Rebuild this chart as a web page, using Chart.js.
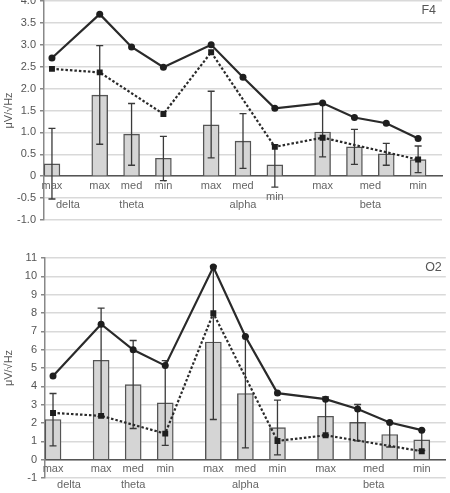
<!DOCTYPE html>
<html>
<head>
<meta charset="utf-8">
<script src="https://cdn.jsdelivr.net/npm/chart.js@4.4.1/dist/chart.umd.min.js"></script>
<style>
  html, body { margin: 0; padding: 0; background: #fff; overflow: hidden; width: 450px; height: 493px; }
  #c1 { position: absolute; left: 0; top: -10px; }
  #c2 { position: absolute; left: 0; top: 240px; }
</style>
</head>
<body>
<canvas id="c1" width="450" height="250"></canvas>
<canvas id="c2" width="450" height="253"></canvas>
<script>
// Category slots (empty slots are spacer columns between band groups)
const tickLabels  = ['max','','','max','','med','','min','','','max','','med','','min','','','max','','','med','','','min',''];
const groupLabels = ['','delta','','','','theta','','','','','','','alpha','','','','','','','','beta','','','',''];

// F4 panel
const f4Bars     = [0.28,null,null,1.85,null,0.96,null,0.41,null,null,1.17,null,0.80,null,0.26,null,null,1.01,null,0.67,null,0.51,null,0.38,null];
const f4ErrHigh  = [1.09,null,null,2.98,null,1.66,null,0.91,null,null,1.94,null,1.43,null,0.72,null,null,1.67,null,1.07,null,0.75,null,0.69,null];
const f4ErrLow   = [-0.52,null,null,0.73,null,0.25,null,-0.10,null,null,0.42,null,0.18,null,-0.25,null,null,0.44,null,0.27,null,0.25,null,0.08,null];
const f4Solid    = [2.70,null,null,3.70,null,2.95,null,2.49,null,null,3.00,null,2.26,null,1.55,null,null,1.67,null,1.34,null,1.21,null,0.86,null];
const f4Dotted   = [2.45,null,null,2.37,null,null,null,1.42,null,null,2.83,null,null,null,0.67,null,null,0.88,null,null,null,null,null,0.38,null];

// O2 panel
const o2Bars     = [2.19,null,null,5.42,null,4.09,null,3.10,null,null,6.42,null,3.61,null,1.75,null,null,2.37,null,2.03,null,1.37,null,1.08,null];
const o2ErrHigh  = [3.61,null,null,8.27,null,6.50,null,5.40,null,null,10.55,null,6.72,null,3.25,null,null,3.43,null,3.01,null,2.03,null,1.62,null];
const o2ErrLow   = [0.75,null,null,2.35,null,1.70,null,0.78,null,null,2.19,null,0.64,null,0.26,null,null,1.35,null,1.02,null,0.69,null,0.50,null];
const o2Solid    = [4.56,null,null,7.39,null,5.99,null,5.13,null,null,10.51,null,6.72,null,3.63,null,null,3.30,null,2.76,null,2.03,null,1.61,null];
const o2Dotted   = [2.55,null,null,2.39,null,null,null,1.42,null,null,7.99,null,null,null,1.02,null,null,1.33,null,null,null,null,null,0.46,null];

const FONT = "'Liberation Sans', Arial, sans-serif";
Chart.defaults.font.family = FONT;

function makeExtras(cfg) {
  return {
    id: 'extras',
    afterDatasetDraw(chart, args) {
      const ds = chart.data.datasets[args.index];
      if (ds.type !== 'bar') return;
      const ctx = chart.ctx, xs = chart.scales.x, ys = chart.scales.y;
      ctx.save();
      ctx.strokeStyle = '#3a3a3a';
      ctx.lineWidth = 1.3;
      cfg.high.forEach((h, i) => {
        const l = cfg.low[i];
        if (h == null || l == null) return;
        const x = xs.getPixelForValue(i);
        const y1 = ys.getPixelForValue(h), y2 = ys.getPixelForValue(l);
        ctx.beginPath();
        ctx.moveTo(x, y1); ctx.lineTo(x, y2);
        ctx.moveTo(x - 3.5, y1); ctx.lineTo(x + 3.5, y1);
        ctx.moveTo(x - 3.5, y2); ctx.lineTo(x + 3.5, y2);
        ctx.stroke();
      });
      ctx.restore();
    },
    afterDraw(chart) {
      const ctx = chart.ctx, xs = chart.scales.x, ys = chart.scales.y;
      const y0 = ys.getPixelForValue(0);
      ctx.save();
      ctx.fillStyle = '#666';
      ctx.font = '11px ' + FONT;
      ctx.textAlign = 'center';
      ctx.textBaseline = 'middle';
      tickLabels.forEach((t, i) => {
        if (!t) return;
        const x = xs.getPixelForValue(i);
        const dy = cfg.lowered.includes(i) ? cfg.lowOff : cfg.row1;
        ctx.fillText(t, x, y0 + dy);
      });
      groupLabels.forEach((t, i) => {
        if (!t) return;
        ctx.fillText(t, xs.getPixelForValue(i), y0 + cfg.row2);
      });
      ctx.font = '12.5px ' + FONT;
      ctx.fillStyle = '#555';
      ctx.textAlign = 'right';
      ctx.fillText(cfg.tag, chart.chartArea.right - cfg.tagRight, chart.chartArea.top + cfg.tagTop);
      ctx.restore();
    }
  };
}

function buildChart(id, d, yMin, yMax, step, fmt, pad, yWidth, extras) {
  return new Chart(document.getElementById(id), {
    type: 'bar',
    data: {
      labels: tickLabels,
      datasets: [
        { type: 'bar', data: d.bars, backgroundColor: '#d5d5d5', borderColor: '#555', borderWidth: 1.4,
          barPercentage: 1, categoryPercentage: 1, order: 3 },
        { type: 'line', data: d.solid, borderColor: '#2a2a2a', borderWidth: 2.2, tension: 0, spanGaps: true,
          pointRadius: 3.5, pointBackgroundColor: '#1e1e1e', pointBorderWidth: 0, order: 1 },
        { type: 'line', data: d.dotted, borderColor: '#2a2a2a', borderWidth: 2.2, borderDash: [2.5, 2], tension: 0, spanGaps: true,
          pointStyle: 'rect', pointRadius: 4.2, pointBackgroundColor: '#1e1e1e', pointBorderWidth: 0, order: 2 }
      ]
    },
    options: {
      responsive: false,
      animation: false,
      devicePixelRatio: 1,
      layout: { padding: pad },
      plugins: { legend: { display: false }, tooltip: { enabled: false } },
      scales: {
        x: {
          type: 'category',
          position: { y: 0 },
          offset: true,
          grid: { display: true, color: 'rgba(0,0,0,0)', drawTicks: false },
          border: { display: true, color: '#555', width: 1.5 },
          ticks: { display: false }
        },
        y: {
          min: yMin, max: yMax,
          afterFit: (s) => { s.width = yWidth; },
          ticks: { stepSize: step, callback: fmt, color: '#555', font: { size: 11 }, padding: 4 },
          grid: { color: '#d9d9d9', lineWidth: 1.5, tickLength: 4, tickColor: '#888' },
          border: { display: true, color: '#888', width: 1.5 },
          title: { display: true, text: 'μV/√Hz', color: '#555', font: { size: 11 }, padding: { top: 2, bottom: 0 } }
        }
      }
    },
    plugins: [extras]
  });
}

buildChart('c1', { bars: f4Bars, solid: f4Solid, dotted: f4Dotted }, -1, 4, 0.5,
  (v) => v === 0 ? '0' : Number(v).toFixed(1),
  { top: 11, bottom: 20, left: 0, right: 8 }, 44,
  makeExtras({ high: f4ErrHigh, low: f4ErrLow, lowered: [14], row1: 10, row2: 29, lowOff: 21, tag: 'F4', tagRight: 6, tagTop: 10 }));

buildChart('c2', { bars: o2Bars, solid: o2Solid, dotted: o2Dotted }, -1, 11, 1,
  (v) => String(v),
  { top: 18, bottom: 15, left: 0, right: 3 }, 45,
  makeExtras({ high: o2ErrHigh, low: o2ErrLow, lowered: [], row1: 9.5, row2: 25, lowOff: 9.5, tag: 'O2', tagRight: 4, tagTop: 10 }));
</script>
</body>
</html>
